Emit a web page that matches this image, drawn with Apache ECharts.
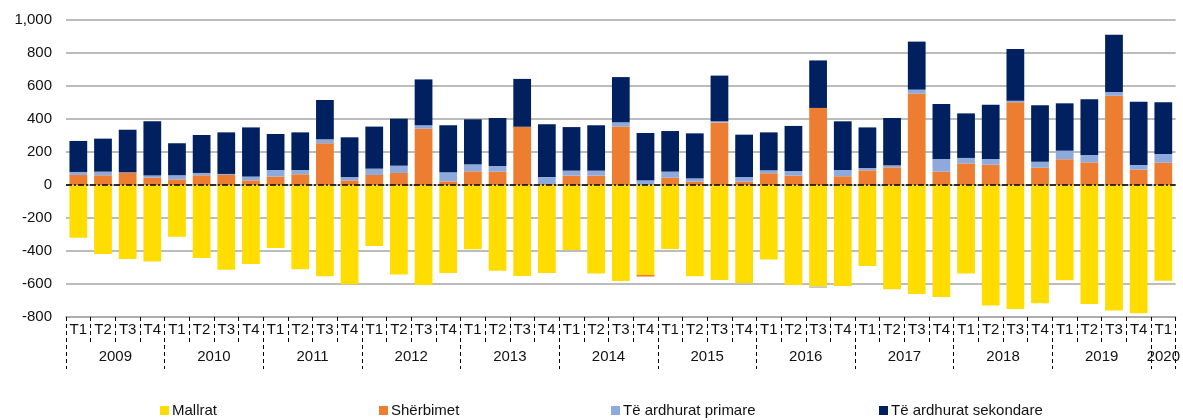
<!DOCTYPE html>
<html>
<head>
<meta charset="utf-8">
<script src="https://cdn.jsdelivr.net/npm/echarts@6/dist/echarts.min.js"></script>
<style>
  html, body { margin: 0; padding: 0; background: #fff; }
  #chart { width: 1183px; height: 420px; }
</style>
</head>
<body>
<div id="chart"></div>
<script>
const quarters = ['T1','T2','T3','T4','T1','T2','T3','T4','T1','T2','T3','T4','T1','T2','T3','T4','T1','T2','T3','T4','T1','T2','T3','T4','T1','T2','T3','T4','T1','T2','T3','T4','T1','T2','T3','T4','T1','T2','T3','T4','T1','T2','T3','T4','T1'];
const years = ['2009','2010','2011','2012','2013','2014','2015','2016','2017','2018','2019','2020'];
const yearLabelPos = [2,6,10,14,18,22,26,30,34,38,42,44.5];

const mallrat = [-319,-418,-448,-463,-313,-442,-513,-479,-382,-511,-553,-602,-370,-543,-606,-533,-390,-519,-551,-533,-394,-537,-582,-545,-388,-553,-576,-596,-452,-606,-617,-612,-491,-632,-661,-679,-537,-731,-751,-717,-578,-721,-760,-778,-580];
const sherbimet = [61,59,73,44,34,59,61,28,51,65,253,28,61,73,341,22,83,81,351,5,57,57,354,-10,44,20,378,20,71,57,467,53,89,107,553,81,131,123,501,105,156,137,541,93,135];
const primare = [18,22,4,13,25,14,6,23,40,26,24,20,38,44,21,55,42,34,2,43,30,30,26,28,37,20,8,28,18,28,-5,38,14,12,25,77,33,35,10,36,52,45,23,28,53];
const sekondare = [188,200,258,329,194,230,252,298,218,228,238,241,255,285,278,285,273,291,290,320,264,275,274,287,246,273,277,257,230,273,288,295,246,287,291,333,270,329,313,342,287,337,347,384,313];

const names = ['Mallrat','Shërbimet','Të ardhurat primare','Të ardhurat sekondare'];
const colors = ['#FFDD00','#ED7D31','#8EA9DB','#002060'];
const seriesData = [mallrat, sherbimet, primare, sekondare];
const legendLeft = [160, 379, 611, 879];

const FONT = 'Liberation Sans, Arial, sans-serif';
const chart = echarts.init(document.getElementById('chart'));

const option = {
  animation: false,
  color: colors,
  textStyle: { fontFamily: FONT },
  grid: { left: 66, right: 7, top: 20, bottom: 103, containLabel: false },
  legend: names.map((n, i) => ({
    data: [n],
    left: legendLeft[i],
    top: 403,
    padding: 0,
    itemWidth: 9,
    itemHeight: 9,
    icon: 'rect',
    textStyle: { fontSize: 15, color: '#111', fontFamily: FONT, padding: [0,0,0,-2] }
  })),
  xAxis: [
    {
      type: 'category',
      data: quarters,
      position: 'bottom',
      boundaryGap: true,
      axisLine: { show: true, onZero: false, lineStyle: { color: '#A6A6A6', width: 1.5 } },
      axisTick: { show: true, interval: 0, length: 26, lineStyle: { color: '#000', width: 1, type: [4, 3] } },
      axisLabel: { interval: 0, fontSize: 15, color: '#111', margin: 5, fontFamily: FONT },
      splitLine: { show: false }
    },
    {
      type: 'value',
      min: 0,
      max: 45,
      position: 'bottom',
      axisLine: { show: false, onZero: false },
      axisTick: { show: false },
      axisLabel: {
        customValues: yearLabelPos,
        fontSize: 15,
        color: '#111',
        margin: 32,
        fontFamily: FONT,
        formatter: function (v) {
          const i = yearLabelPos.indexOf(v);
          return i >= 0 ? years[i] : '';
        }
      },
      splitLine: { show: false }
    },
    {
      type: 'category',
      data: quarters,
      position: 'bottom',
      boundaryGap: true,
      axisLine: { show: false, onZero: false },
      axisTick: {
        show: true,
        interval: function (index) { return index % 4 === 0; },
        length: 52,
        lineStyle: { color: '#000', width: 1, type: [4, 3] }
      },
      axisLabel: { show: false },
      splitLine: { show: false }
    }
  ],
  yAxis: {
    type: 'value',
    min: -800,
    max: 1000,
    interval: 200,
    axisLine: { show: false },
    axisTick: { show: false },
    axisLabel: {
      fontSize: 15,
      color: '#111',
      margin: 14,
      fontFamily: FONT,
      formatter: v => v.toLocaleString('en-US')
    },
    splitLine: { show: true, lineStyle: { color: '#A6A6A6', width: 1.5 } }
  },
  series: names.map((n, i) => {
    const s = {
      name: n,
      type: 'bar',
      stack: 'total',
      xAxisIndex: 0,
      barCategoryGap: '28%',
      data: seriesData[i],
      itemStyle: { color: colors[i] }
    };
    if (i === 3) {
      s.markLine = {
        silent: true,
        symbol: 'none',
        label: { show: false },
        lineStyle: { color: '#000', width: 1.5, type: [6, 2, 2, 2] },
        data: [{ yAxis: 0 }]
      };
    }
    return s;
  })
};
chart.setOption(option);
</script>
</body>
</html>
